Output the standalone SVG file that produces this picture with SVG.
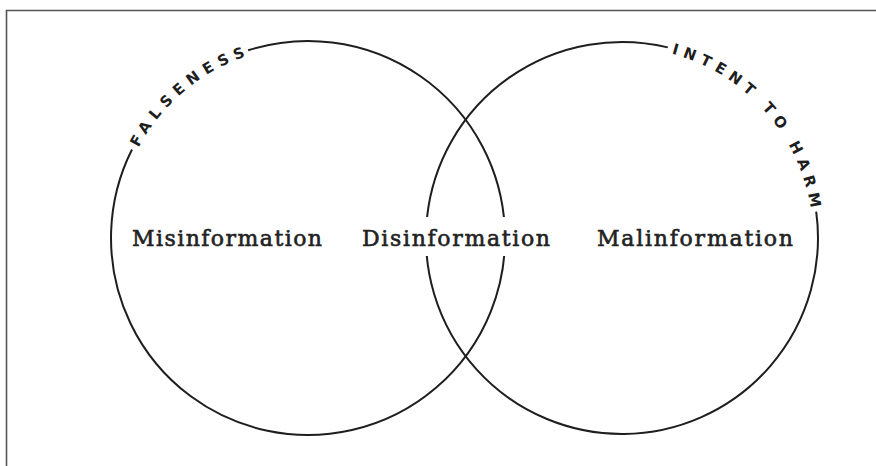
<svg xmlns="http://www.w3.org/2000/svg" width="876" height="466" viewBox="0 0 876 466">
<style>
.ring{fill:none;stroke:#1e1e1e;stroke-width:2}
.arc{font-family:"DejaVu Sans","Liberation Sans",sans-serif;font-weight:bold;font-size:15px;fill:#1e1e1e}
.lbl{font-family:"DejaVu Serif","Liberation Serif",serif;font-size:22px;fill:#222;stroke:#222;stroke-width:0.6px;text-anchor:middle}
</style>
<defs>
<path id="pL" d="M 127.6 172.3 A 192 192 0 0 1 271.4 49.5"/>
<path id="pR" d="M 655.2 49.9 A 191 191 0 0 1 812.5 224.7"/>
</defs>
<rect x="0" y="0" width="876" height="466" fill="#fff"/>
<path d="M 6.5 466 L 6.5 10.5 L 876 10.5" fill="none" stroke="#555" stroke-width="1.6"/>
<g id="falseness">
<path class="ring" d="M 248.1 50.3 A 197 197 0 1 1 132.0 149.5"/>
<text class="arc"><textPath href="#pL" startOffset="50%" text-anchor="middle" textLength="144" lengthAdjust="spacing">FALSENESS</textPath></text>
</g>
<g id="intent">
<path class="ring" d="M 816.2 211.7 A 196 196 0 1 1 667.8 47.4"/>
<text class="arc"><textPath href="#pR" startOffset="50%" text-anchor="middle" textLength="220" lengthAdjust="spacing">INTENT TO HARM</textPath></text>
</g>
<g id="misinformation"><text class="lbl" x="227" y="246" textLength="190">Misinformation</text></g>
<g id="disinformation"><rect x="418" y="217" width="94" height="39" fill="#fff"/><text class="lbl" x="456" y="246" textLength="188">Disinformation</text></g>
<g id="malinformation"><text class="lbl" x="695" y="246" textLength="196">Malinformation</text></g>
<g id="connectors"></g>
</svg>
